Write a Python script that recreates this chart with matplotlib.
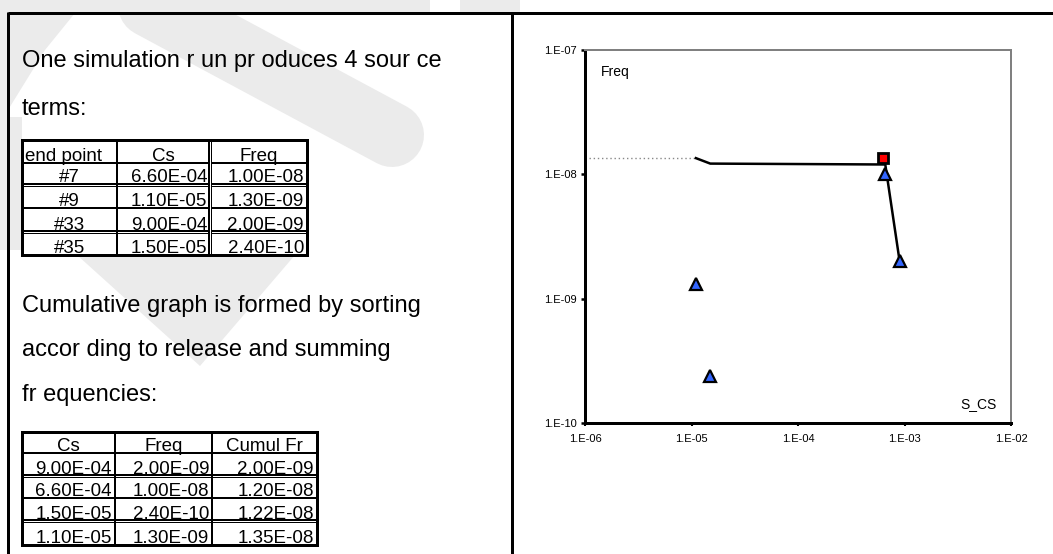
import matplotlib
matplotlib.use("Agg")
import matplotlib.pyplot as plt

# source terms from one simulation run
end_points = ["#7", "#9", "#33", "#35"]
cs = [6.6e-4, 1.1e-5, 9.0e-4, 1.5e-5]
freq = [1.0e-8, 1.3e-9, 2.0e-9, 2.4e-10]

# sorted by release, with cumulative frequency
cs_sorted = [9.0e-4, 6.6e-4, 1.5e-5, 1.1e-5]
freq_sorted = [2.0e-9, 1.0e-8, 2.4e-10, 1.3e-9]
cumul = [2.0e-9, 1.2e-8, 1.22e-8, 1.35e-8]

# total point (red square)
total_cs = 6.3e-4
total_freq = 1.35e-8

x_ticks = [1e-6, 1e-5, 1e-4, 1e-3, 1e-2]
x_ticklabels = ["1.E-06", "1.E-05", "1.E-04", "1.E-03", "1.E-02"]
y_ticks = [1e-10, 1e-9, 1e-8, 1e-7]
y_ticklabels = ["1.E-10", "1.E-09", "1.E-08", "1.E-07"]

head1 = ["end point", "Cs", "Freq"]
head2 = ["Cs", "Freq", "Cumul Fr"]

text_lines = [("One simulation r un pr oduces 4 sour ce", 67),
              ("terms:", 115),
              ("Cumulative graph is formed by sorting", 312),
              ("accor ding to release and summing", 356),
              ("fr equencies:", 401)]

PX = 0.72  # points per pixel at dpi 100
W, H = 1053, 554
font = ["Liberation Sans", "DejaVu Sans"]
wm = "#ebebeb"

fig = plt.figure(figsize=(W / 100, H / 100), dpi=100)
bg = fig.add_axes([0, 0, 1, 1])
bg.set_xlim(0, W)
bg.set_ylim(H, 0)
bg.axis("off")

# faint watermark behind the slide
bg.fill([0, 430, 430, 0], [0, 0, 13, 13], color=wm, lw=0, zorder=0)
bg.fill([460, 520, 520, 460], [0, 0, 13, 13], color=wm, lw=0, zorder=0)
bg.fill([0, 8, 8, 0], [0, 0, 250, 250], color=wm, lw=0, zorder=0)
bg.fill([8, 75, 45, 8], [13, 13, 50, 110], color=wm, lw=0, zorder=0)
bg.plot([150, 392], [5, 135], color=wm, lw=64 * PX, solid_capstyle="round", zorder=0)
bg.fill([8, 22, 22, 8], [117, 117, 250, 250], color=wm, lw=0, zorder=0)
bg.fill([77, 295, 200], [255, 255, 366], color=wm, lw=0, zorder=0)

# panel frame
bg.plot([8, W], [13, 13], color="black", lw=3 * PX, solid_capstyle="butt")
bg.plot([8, 8], [12, H], color="black", lw=3 * PX, solid_capstyle="butt")
bg.plot([512, 512], [12, H], color="black", lw=3 * PX, solid_capstyle="butt")

for s, y in text_lines:
    bg.text(22, y, s, fontsize=17, family=font, va="baseline", ha="left")


def hline(x0, x1, y, color, lw):
    bg.plot([x0, x1], [y, y], color=color, lw=lw, zorder=2, solid_capstyle="butt")


def vline(x, y0, y1, color, lw):
    bg.plot([x, x], [y0, y1], color=color, lw=lw, zorder=2, solid_capstyle="butt")


def draw_table(cols, rows, double_rows, double_cols, header, body, head_al, body_al):
    x0, x1 = cols[0], cols[-1]
    y0, y1 = rows[0], rows[-1]
    bg.fill([x0, x1, x1, x0], [y0, y0, y1, y1], color="white", lw=0, zorder=1)
    for y in rows[1:-1]:
        if y in double_rows:
            hline(x0, x1, y, "black", 4 * PX)
            hline(x0, x1, y, "white", 1 * PX)
        else:
            hline(x0, x1, y, "black", 2 * PX)
    for x in cols[1:-1]:
        if x in double_cols:
            vline(x, y0, y1, "black", 4 * PX)
            vline(x, y0, y1, "white", 1 * PX)
        else:
            vline(x, y0, y1, "black", 2 * PX)
    bg.plot([x0, x1, x1, x0, x0], [y0, y0, y1, y1, y0], color="black",
            lw=3 * PX, zorder=3, solid_joinstyle="miter")
    for r, vals in enumerate([header] + body):
        al = head_al if r == 0 else body_al
        yb = rows[r + 1] - 2
        for c, v in enumerate(vals):
            if al[c] == "left":
                xx = cols[c] + 3
            elif al[c] == "right":
                xx = cols[c + 1] - 3
            else:
                xx = (cols[c] + cols[c + 1]) / 2
            bg.text(xx, yb, v, fontsize=13.5, family=font, ha=al[c],
                    va="baseline", zorder=4)


body1 = [[e, f"{c:.2E}", f"{f:.2E}"] for e, c, f in zip(end_points, cs, freq)]
draw_table([22, 117, 210, 307], [140, 163, 184.5, 208, 231.5, 255], [184.5, 231.5],
           [210], head1, body1, ["left", "center", "center"],
           ["center", "right", "right"])

body2 = [[f"{c:.2E}", f"{f:.2E}", f"{u:.2E}"]
         for c, f, u in zip(cs_sorted, freq_sorted, cumul)]
draw_table([22, 115, 212, 317], [432, 453, 476, 498, 521, 545], [476, 521],
           [], head2, body2, ["center", "center", "center"],
           ["right", "right", "right"])

# cumulative chart
ax = fig.add_axes([585 / W, 1 - 423 / H, 426 / W, 373 / H])
ax.set_xscale("log")
ax.set_yscale("log")
ax.set_xlim(x_ticks[0], x_ticks[-1])
ax.set_ylim(y_ticks[0], y_ticks[-1])

ax.plot([ax.get_xlim()[0] * 1.1, cs_sorted[-1]], [cumul[-1], cumul[-1]],
        color="#888888", lw=1, ls=(0, (1, 2)), zorder=2)
ax.plot(cs_sorted, cumul, color="black", lw=2.5 * PX, zorder=3)
ax.plot(cs, freq, ls="none", marker="^", ms=9, mfc="#3366ff", mec="black",
        mew=1.6, zorder=4, clip_on=False)
ax.plot([total_cs], [total_freq], ls="none", marker="s", ms=7, mfc="red",
        mec="black", mew=2, zorder=5)

ax.set_xticks(x_ticks, x_ticklabels)
ax.set_yticks(y_ticks, y_ticklabels)
ax.minorticks_off()
for lab in ax.get_xticklabels() + ax.get_yticklabels():
    lab.set_family(font)
ax.tick_params(axis="y", direction="out", length=3, width=1.8, labelsize=8, pad=3)
ax.tick_params(axis="x", direction="out", length=2, width=1.5, labelsize=8, pad=6)
for side in ["left", "bottom"]:
    ax.spines[side].set_linewidth(3 * PX)
    ax.spines[side].set_color("black")
for side in ["top", "right"]:
    ax.spines[side].set_linewidth(2 * PX)
    ax.spines[side].set_color("#808080")

ax.text(0.038, 0.94, "Freq", transform=ax.transAxes, fontsize=10,
        family=font, ha="left", va="center")
ax.text(0.965, 0.051, "S_CS", transform=ax.transAxes, fontsize=10,
        family=font, ha="right", va="center")

fig.savefig("out.png", dpi=100)
